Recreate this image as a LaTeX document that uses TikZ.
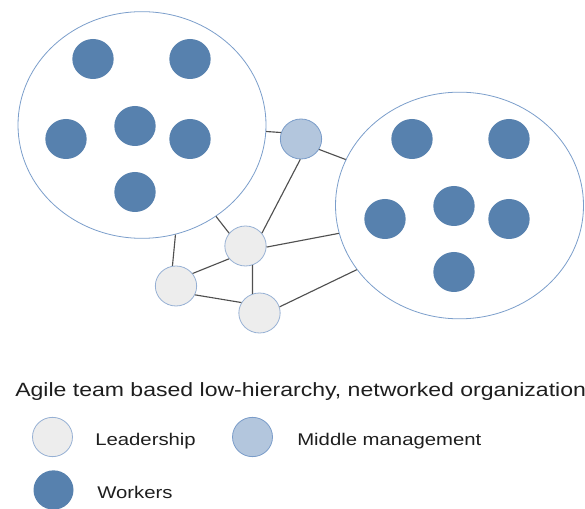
\documentclass[tikz,border=0pt]{standalone}
\usepackage{fontspec}
\setmainfont{Liberation Sans}[FakeStretch=1.2]
\usepackage{tikz}
\usetikzlibrary{shapes.geometric,positioning}

\definecolor{workerblue}{RGB}{87,129,174}
\definecolor{middlefill}{RGB}{179,198,221}
\definecolor{middleline}{RGB}{122,156,201}
\definecolor{leadfill}{RGB}{237,237,237}
\definecolor{leadline}{RGB}{150,176,212}
\definecolor{teamline}{RGB}{123,158,203}
\definecolor{linkgray}{RGB}{80,80,80}
\definecolor{textgray}{RGB}{30,30,30}

\tikzset{
  team/.style={
    ellipse,
    draw=teamline, line width=0.6pt,
    fill=white,
    minimum width=186pt,
    minimum height=170pt,
    inner sep=0pt},
  worker/.style={
    ellipse,
    fill=workerblue,
    minimum width=31pt,
    minimum height=30pt,
    inner sep=0pt},
  middle/.style={worker, fill=middlefill, draw=middleline, line width=0.6pt},
  lead/.style={worker, fill=leadfill, draw=leadline, line width=0.6pt},
  link/.style={draw=linkgray, line width=0.85pt},
}

\begin{document}
\begin{tikzpicture}[
    x=0.75pt, y=-0.75pt,
    legend text/.style={anchor=base west, inner sep=0pt, text=textgray,
      font=\fontsize{12.7}{15}\selectfont},
    title text/.style={anchor=base west, inner sep=0pt, text=textgray,
      font=\fontsize{14.4}{17}\selectfont}
    ]
    \useasboundingbox (0,0) rectangle (585,509);

    % Teams
    \node[team] (leftteam) at (142,125) {};
    \node[team] (rightteam) at (459.5,205.5) {};

    %workers
    \node[worker] (lw1) at (93,59) {};
    \node[worker] (lw2) at (190,59) {};
    \node[worker] (lw3) at (66,139) {};
    \node[worker] (lw4) at (135,126) {};
    \node[worker] (lw5) at (190,139) {};
    \node[worker] (lw6) at (135,192) {};

    \node[worker] (rw1) at (412,139) {};
    \node[worker] (rw2) at (509,139) {};
    \node[worker] (rw3) at (385,219) {};
    \node[worker] (rw4) at (454,206) {};
    \node[worker] (rw5) at (509,219) {};
    \node[worker] (rw6) at (454,272) {};

    %middle management and leadership
    \node[middle] (mm) at (301,139) {};
    \node[lead] (l1) at (245.5,246) {};
    \node[lead] (l2) at (176,286) {};
    \node[lead] (l3) at (259.5,313) {};

    %links
    \draw[link] (leftteam.-3)  -- (mm.162);
    \draw[link] (mm.-30)       -- (rightteam.158);
    \draw[link] (mm.-92)       -- (l1.38);
    \draw[link] (leftteam.-51) -- (l1.142);
    \draw[link] (leftteam.-73) -- (l2.100);
    \draw[link] (l1.-3)        -- (rightteam.193);
    \draw[link] (l1.218)       -- (l2.37);
    \draw[link] (l1.-70)       -- (l3.110);
    \draw[link] (l2.-25)       -- (l3.150);
    \draw[link] (l3.17)        -- (rightteam.212);

    %legend
    \node[title text] (title) at (15,397)
         {Agile team based low-hierarchy, networked organization};
    \node[lead, minimum width=30pt, minimum height=29.5pt] (leadkey) at (52.5,437) {};
    \node[legend text] (leadlabel) at (95,445) {Leadership};
    \node[middle, minimum width=30pt, minimum height=29.5pt] (middlekey) at (252.5,437) {};
    \node[legend text] (middlelabel) at (297,445) {Middle management};
    \node[worker, minimum width=30pt, minimum height=29.5pt] (workerkey) at (53.5,490) {};
    \node[legend text] (workerlabel) at (97,498) {Workers};

\end{tikzpicture}
\end{document}
